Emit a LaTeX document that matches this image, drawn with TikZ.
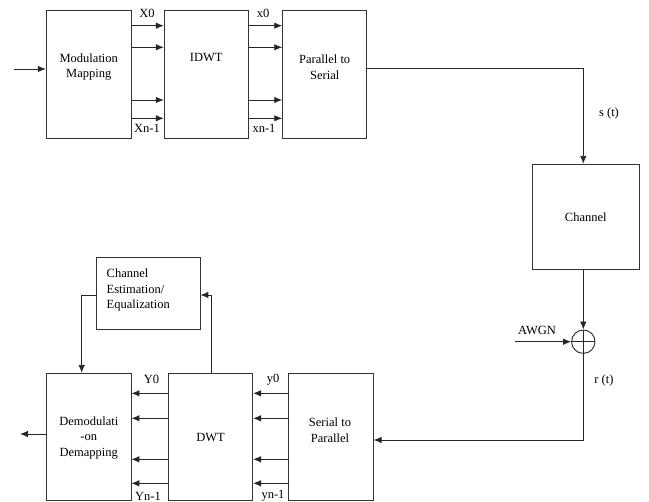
\documentclass[tikz,border=0pt]{standalone}
\usepackage{fontspec}
\setmainfont{Liberation Serif}
\usetikzlibrary{arrows.meta,calc}
\begin{document}
\begin{tikzpicture}[x=1pt,y=-1pt,
  every node/.style={font=\fontsize{12.5}{15.5}\selectfont},
  blk/.style={draw=black!80,line width=0.9pt,inner sep=0pt},
  ln/.style={draw=black!85,line width=0.9pt},
  arr/.style={ln,-{Latex[length=8pt,width=6.5pt]}},
  lbl/.style={inner sep=0pt}]
\useasboundingbox (0,0) rectangle (649,502);
% top row boxes
\node[blk,minimum width=85pt,minimum height=128pt] (mm) at (88.8,74) {};
\node[blk,minimum width=84pt,minimum height=128pt] (idwt) at (206.3,74) {};
\node[blk,minimum width=84pt,minimum height=128pt] (ps) at (324.7,74) {};
\node[lbl,align=center] (mmt) at (88.8,67) {Modulation\\Mapping};
\node[lbl] (idwtt) at (206.3,58) {IDWT};
\node[lbl,align=center] (pst) at (324.7,67) {Parallel to\\Serial};
% input
\coordinate (in) at (14,69);
\draw[arr] (in) -- (mm.west |- in);
% parallel arrows top
\foreach \yy [count=\i] in {25.7,47.3,100,118.3}{
  \coordinate (ta\i) at (0,\yy);
  \draw[arr] (mm.east |- ta\i) -- (idwt.west |- ta\i);
  \draw[arr] (idwt.east |- ta\i) -- (ps.west |- ta\i);
}
\node[lbl] (X0) at (147,13.5) {X0};
\node[lbl] (Xn) at (147,128.5) {Xn-1};
\node[lbl] (x0) at (263,13.5) {x0};
\node[lbl] (xn) at (264,128.5) {xn-1};
% channel
\node[blk,minimum width=107pt,minimum height=105pt] (ch) at (585.8,216.8) {Channel};
\coordinate (st) at (583.3,68.3);
\draw[arr] (ps.east |- st) -| (ch.north -| st);
\node[lbl] (stl) at (609,113.5) {s (t)};
% adder
\node[draw=black!85,line width=0.9pt,circle,minimum size=23.4pt,inner sep=0pt] (add) at (583.3,341.7) {};
\draw[ln] (add.north) -- (add.south) (add.west) -- (add.east);
\draw[arr] (ch.south -| add) -- (add.north);
\coordinate (awgn) at (515,341.7);
\draw[arr] (awgn) -- (add.west);
\node[lbl] (awgnl) at (537,330) {AWGN};
\node[lbl] (rtl) at (604,380) {r (t)};
% bottom row
\node[blk,minimum width=84.3pt,minimum height=127pt] (sp) at (331,436.8) {};
\node[blk,minimum width=84.3pt,minimum height=127pt] (dwt) at (210.5,436.8) {};
\node[blk,minimum width=84.3pt,minimum height=127pt] (dm) at (88.8,436.8) {};
\node[lbl,align=center] (spt) at (330,430) {Serial to\\Parallel};
\node[lbl] (dwtt) at (210.5,438) {DWT};
\node[lbl,align=center] (dmt) at (88.8,438) {Demodulati\\-on\\Demapping};
\coordinate (rt) at (583.3,440);
\draw[arr] (add.south) -- (rt) -- (sp.east |- rt);
\foreach \yy [count=\i] in {393.3,418.3,459.3,483.3}{
  \coordinate (ba\i) at (0,\yy);
  \draw[arr] (sp.west |- ba\i) -- (dwt.east |- ba\i);
  \draw[arr] (dwt.west |- ba\i) -- (dm.east |- ba\i);
}
\node[lbl] (Y0) at (151.5,379.5) {Y0};
\node[lbl] (Yn) at (148,496) {Yn-1};
\node[lbl] (y0) at (273,379.5) {y0};
\node[lbl] (yn) at (273,496) {yn-1};
\coordinate (out) at (20,434);
\draw[arr] (dm.west |- out) -- (out);
% channel estimation
\node[blk,minimum width=103.3pt,minimum height=71.7pt] (ce) at (148.3,293.2) {};
\node[lbl,align=left,anchor=west] (cet) at (106.5,290) {Channel\\Estimation/\\Equalization};
\coordinate (fb) at (211,295);
\draw[arr] (dwt.north -| fb) -- (fb) -- (ce.east |- fb);
\coordinate (fb2) at (81.7,295);
\draw[arr] (ce.west |- fb2) -- (fb2) -- (dm.north -| fb2);
\end{tikzpicture}
\end{document}
